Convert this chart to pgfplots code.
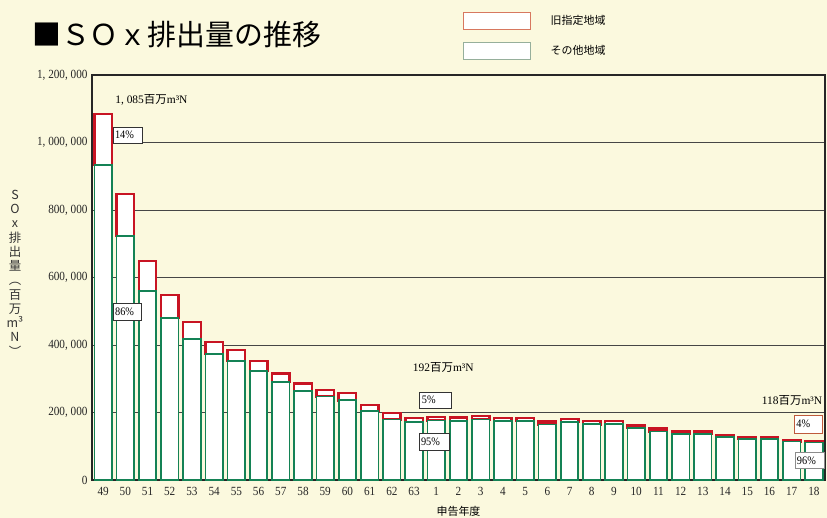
\documentclass[border=0pt]{standalone}
\usepackage{fontspec}
\setmainfont{Liberation Serif}
\newfontfamily\cjk{Noto Sans CJK JP}
\newfontfamily\numfont[FakeStretch=0.9]{Liberation Serif}
\usepackage{pgfplots}
\pgfplotsset{compat=1.18}
\usepackage{pgfplotstable}
\definecolor{bg}{RGB}{251,249,222}
\definecolor{barg}{RGB}{20,130,85}
\definecolor{barr}{RGB}{200,20,35}
\definecolor{gridc}{RGB}{70,70,70}
\definecolor{legr}{RGB}{215,120,95}
\definecolor{legg}{RGB}{150,175,155}
\definecolor{boxr}{RGB}{190,90,60}

\pgfplotstableread{
idx other old
0 933000 152000
1 723000 124000
2 560000 89000
3 480000 68000
4 418000 50000
5 373000 36000
6 353000 32000
7 323000 30000
8 290000 26000
9 264000 22000
10 247000 20000
11 236000 21000
12 204000 18000
13 179000 19000
14 172000 12000
15 176000 10000
16 175000 10000
17 179000 10000
18 174000 10000
19 174000 10000
20 164000 9000
21 171000 9000
22 165000 9000
23 165000 9000
24 154000 8000
25 144000 8000
26 137000 7000
27 137000 7000
28 128000 6000
29 122000 6000
30 122000 6000
31 114000 5000
32 111000 5000
}\sox

\newcommand\annfont{\fontsize{11.5}{12}\selectfont}
\newcommand\unit{{\cjk 百万}m³N}

\begin{document}
\begin{tikzpicture}
\useasboundingbox (0bp,0bp) rectangle (827bp,518bp);
\fill[bg] (0bp,0bp) rectangle (827bp,518bp);
\node[anchor=west, inner sep=0pt] at (32bp,483bp) {\cjk\fontsize{29}{29}\selectfont ■ＳＯｘ排出量の推移};
\begin{axis}[
  at={(92bp,38bp)}, anchor=south west,
  scale only axis, width=733bp, height=405bp,
  ybar stacked, bar width=17.5bp,
  xmin=-0.5, xmax=32.5, ymin=0, ymax=1200000,
  xtick={0,...,32},
  xticklabels={49,50,51,52,53,54,55,56,57,58,59,60,61,62,63,1,2,3,4,5,6,7,8,9,10,11,12,13,14,15,16,17,18},
  ytick={0,200000,400000,600000,800000,1000000,1200000},
  yticklabels={0,{200, 000},{400, 000},{600, 000},{800, 000},{1, 000, 000},{1, 200, 000}},
  scaled y ticks=false,
  ymajorgrids,
  grid style={gridc, line width=0.9bp},
  axis line style={black!85, line width=1.1bp},
  tick style={draw=none},
  xticklabel style={font=\numfont\fontsize{12.5}{13}\selectfont, yshift=-4bp, text=black!85},
  yticklabel style={font=\numfont\fontsize{12.5}{13}\selectfont, xshift=-1bp, text=black!85},
  xlabel={\cjk 申告年度},
  every axis x label/.style={at={(rel axis cs:0.5,0)}, anchor=north, yshift=-23bp, font=\fontsize{11}{11}\selectfont},
  ylabel={S\\O\\x\\排\\出\\量\\︵\\百\\万\\m³\\N\\︶},
  every axis y label/.style={at={(rel axis cs:0,0.511)}, anchor=center, xshift=-77bp, align=center, font=\cjk\fontsize{12.5}{14.3}\selectfont, text=black!80},
  legend style={at={(rel axis cs:0.506,1.156)}, anchor=north west, draw=none, fill=none, inner sep=0pt, outer sep=0pt, row sep=12bp, font=\cjk\fontsize{11}{12}\selectfont, nodes={inner sep=0pt}, /tikz/every odd column/.append style={column sep=20bp}},
  legend cell align=left,
  reverse legend,
  clip=false,
]
\addplot[draw=barg, fill=white, line width=1.7bp,
  legend image code/.code={\draw[draw=legg, fill=white, line width=0.8bp] (0bp,-8.5bp) rectangle (67bp,8.5bp);}]
  table[x=idx, y=other] {\sox};
\addlegendentry{その他地域}
\addplot[draw=barr, fill=white, line width=2.4bp,
  legend image code/.code={\draw[draw=legr, fill=white, line width=0.8bp] (0bp,-8.5bp) rectangle (67bp,8.5bp);}]
  table[x=idx, y=old] {\sox};
\addlegendentry{旧指定地域}

\coordinate (a1) at (axis cs:0.54,1126000);
\coordinate (a2) at (axis cs:13.94,332000);
\coordinate (a3) at (axis cs:29.65,237000);
\coordinate (b1) at (axis cs:1.1,1022000);
\coordinate (b2) at (axis cs:1.08,499000);
\coordinate (b3) at (axis cs:14.98,237000);
\coordinate (b4) at (axis cs:14.9,114000);
\coordinate (b5) at (axis cs:31.75,166000);
\coordinate (b6) at (axis cs:31.8,58000);
\end{axis}

\node[anchor=west, inner sep=0pt, font=\annfont] at (a1) {1, 085\unit};
\node[anchor=west, inner sep=0pt, font=\annfont] at (a2) {192\unit};
\node[anchor=west, inner sep=0pt, font=\annfont] at (a3) {118\unit};

\tikzset{pbox/.style={fill=white, line width=0.7bp, inner sep=0pt, align=left, font=\numfont\fontsize{11.5}{12}\selectfont}}
\node[pbox, draw=black!80, minimum width=29bp, minimum height=16bp, text width=25bp] at (b1) {14\%};
\node[pbox, draw=black!80, minimum width=28bp, minimum height=17bp, text width=24bp] at (b2) {86\%};
\node[pbox, draw=black!80, minimum width=32bp, minimum height=16bp, text width=28bp] at (b3) {5\%};
\node[pbox, draw=black!80, minimum width=30bp, minimum height=17bp, text width=26bp] at (b4) {95\%};
\node[pbox, draw=boxr, minimum width=28bp, minimum height=18bp, text width=24bp] at (b5) {4\%};
\node[pbox, draw=black!45, minimum width=29bp, minimum height=16bp, text width=25bp] at (b6) {96\%};
\end{tikzpicture}
\end{document}
